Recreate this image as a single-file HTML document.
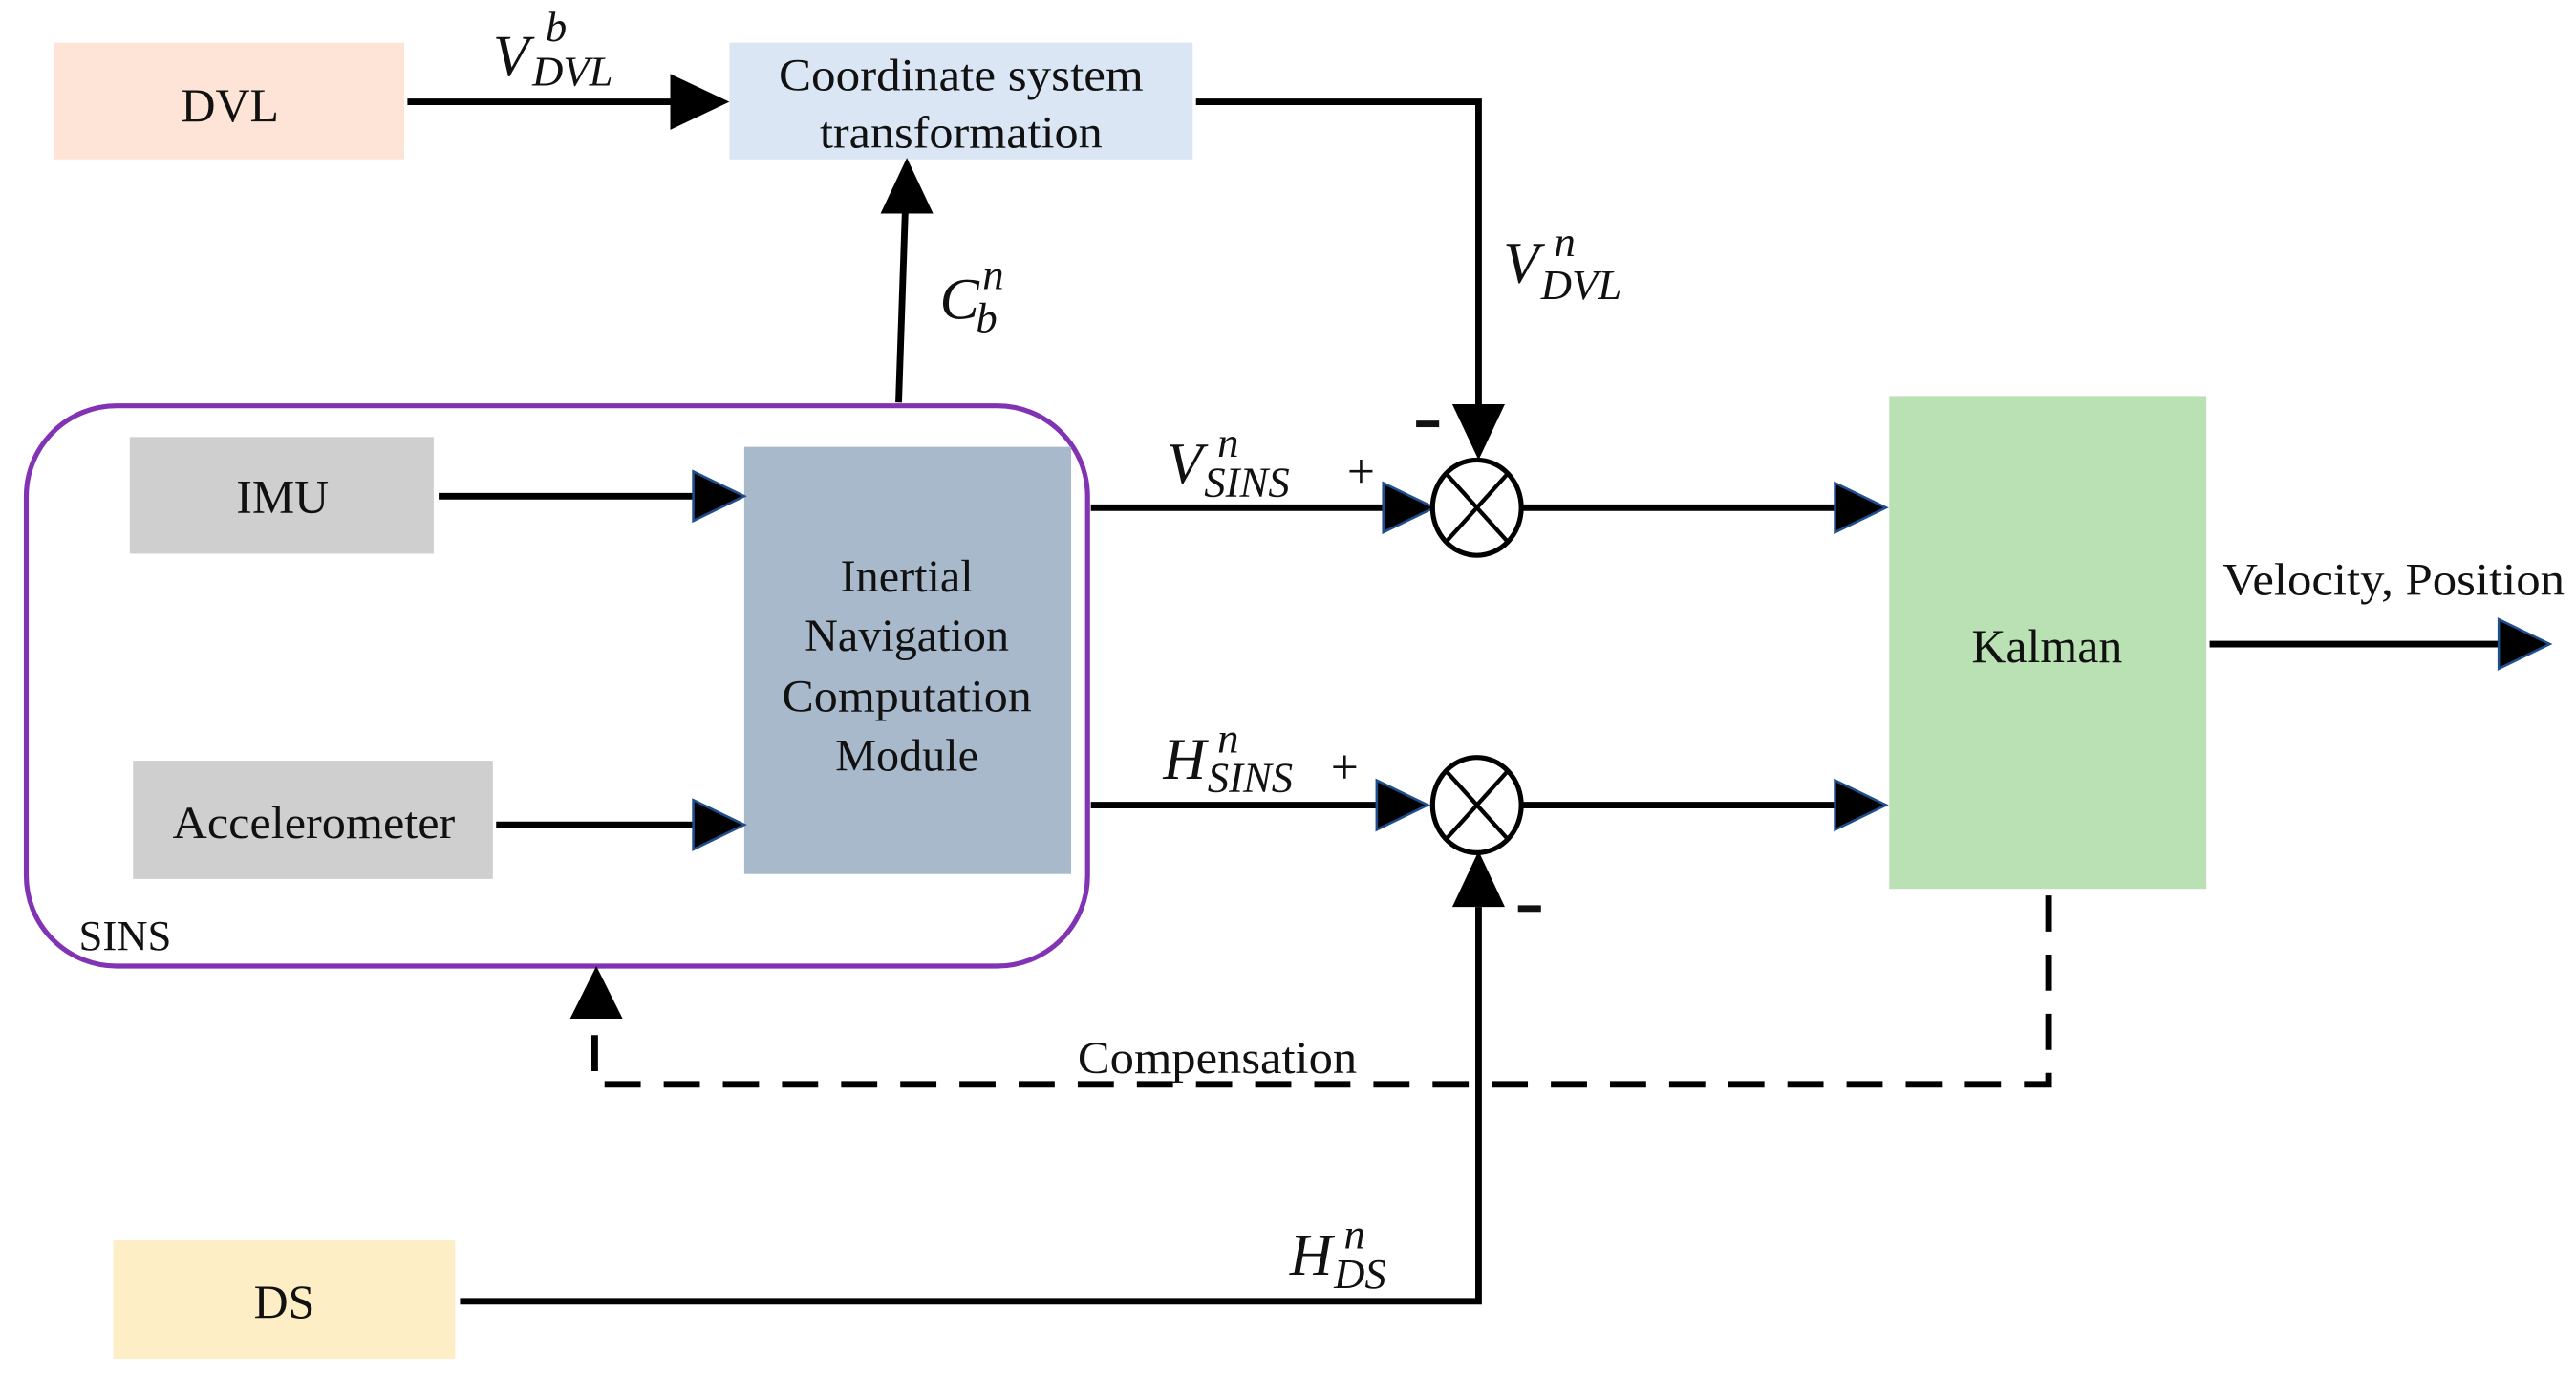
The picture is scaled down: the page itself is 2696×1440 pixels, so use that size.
<!DOCTYPE html>
<html><head><meta charset="utf-8"><style>
html,body{margin:0;padding:0;background:#fff}
svg{display:block}
text{font-family:"Liberation Serif",serif;fill:#111}
.m{font-style:italic}
</style></head><body>
<svg width="2696" height="1440" viewBox="0 0 1568 837.5" xmlns="http://www.w3.org/2000/svg">
<!-- boxes -->
<rect x="33" y="26" width="213" height="71" fill="#fde4d6"/>
<text x="140" y="74" font-size="29" text-anchor="middle">DVL</text>
<rect x="444" y="26" width="282" height="71" fill="#dae6f4"/>
<text x="585" y="55" font-size="28" text-anchor="middle" textLength="222" lengthAdjust="spacingAndGlyphs">Coordinate  system</text>
<text x="585" y="90" font-size="28" text-anchor="middle" textLength="172" lengthAdjust="spacingAndGlyphs">transformation</text>

<rect x="16" y="247" width="646" height="341" rx="55" fill="none" stroke="#8133b3" stroke-width="3"/>
<rect x="79" y="266" width="185" height="71" fill="#d0cfcf"/>
<text x="172" y="312" font-size="29" text-anchor="middle">IMU</text>
<rect x="81" y="463" width="219" height="72" fill="#d0cfcf"/>
<text x="191" y="510" font-size="28" text-anchor="middle" textLength="172" lengthAdjust="spacingAndGlyphs">Accelerometer</text>
<rect x="453" y="272" width="199" height="260" fill="#a9b9cc"/>
<text x="552" y="360" font-size="28" text-anchor="middle">Inertial</text>
<text x="552" y="396" font-size="28" text-anchor="middle">Navigation</text>
<text x="552" y="433" font-size="28" text-anchor="middle" textLength="152" lengthAdjust="spacingAndGlyphs">Computation</text>
<text x="552" y="469" font-size="28" text-anchor="middle">Module</text>
<text x="48" y="578" font-size="26">SINS</text>

<rect x="1150" y="241" width="193" height="300" fill="#b9e1b3"/>
<text x="1246" y="403" font-size="29" text-anchor="middle">Kalman</text>
<rect x="69" y="755" width="208" height="72" fill="#fdeec6"/>
<text x="173" y="802" font-size="29" text-anchor="middle">DS</text>

<!-- lines -->
<g stroke="#000" stroke-width="4" fill="none">
<path d="M248 62H410"/>
<path d="M547 245L551 128"/>
<path d="M728 62H900V250"/>
<path d="M267 302H423"/>
<path d="M302 502H423"/>
<path d="M664 309H842"/>
<path d="M926 309H1118"/>
<path d="M664 490H840"/>
<path d="M926 490H1118"/>
<path d="M1345 392H1522"/>
<path d="M280 792H900V552"/>
<path d="M1247 545V660H362V620" stroke-dasharray="22,14"/>
</g>
<!-- arrowheads -->
<g fill="#000">
<polygon points="408,45 444,62 408,79"/>
<polygon points="536,130 552,96 568,130"/>
<polygon points="884,246 900,280 916,246"/>
<polygon points="884,552 900,518 916,552"/>
<polygon points="347,620 363,588 379,620"/>
</g>
<g fill="#000" stroke="#1f4e8c" stroke-width="1.5">
<polygon points="422,287 453,302 422,317"/>
<polygon points="422,487 453,502 422,517"/>
<polygon points="842,294 873,309 842,324"/>
<polygon points="838,475 869,490 838,505"/>
<polygon points="1117,294 1148,309 1117,324"/>
<polygon points="1117,475 1148,490 1117,505"/>
<polygon points="1521,377 1552,392 1521,407"/>
</g>
<!-- sum junctions -->
<g stroke="#000" stroke-width="3" fill="#fff">
<ellipse cx="899" cy="309" rx="27" ry="29"/>
<ellipse cx="899" cy="490" rx="27" ry="29"/>
</g>
<g stroke="#000" stroke-width="2.5">
<path d="M880 288L918 330M918 288L880 330"/>
<path d="M880 469L918 511M918 469L880 511"/>
</g>
<!-- signs -->
<text x="820" y="297" font-size="30">+</text>
<rect x="862" y="256" width="14" height="4" fill="#111"/>
<text x="810" y="477" font-size="30">+</text>
<rect x="924" y="551" width="14" height="4" fill="#111"/>
<!-- math labels -->
<text class="m" x="300" y="46" font-size="36">V</text><text class="m" x="332" y="25" font-size="26">b</text><text class="m" x="324" y="52" font-size="26">DVL</text>
<text class="m" x="572" y="194" font-size="36">C</text><text class="m" x="598" y="176" font-size="26">n</text><text class="m" x="594" y="202" font-size="26">b</text>
<text class="m" x="915" y="172" font-size="36">V</text><text class="m" x="946" y="156" font-size="26">n</text><text class="m" x="938" y="182" font-size="26">DVL</text>
<text class="m" x="710" y="294" font-size="36">V</text><text class="m" x="741" y="278" font-size="26">n</text><text class="m" x="733" y="302" font-size="26">SINS</text>
<text class="m" x="708" y="474" font-size="36">H</text><text class="m" x="741" y="458" font-size="26">n</text><text class="m" x="735" y="482" font-size="26">SINS</text>
<text class="m" x="785" y="776" font-size="36">H</text><text class="m" x="818" y="760" font-size="26">n</text><text class="m" x="812" y="784" font-size="26">DS</text>
<text x="656" y="653" font-size="28" textLength="170" lengthAdjust="spacingAndGlyphs">Compensation</text>
<text x="1353" y="362" font-size="28" textLength="208" lengthAdjust="spacingAndGlyphs">Velocity, Position</text>
</svg>
</body></html>
